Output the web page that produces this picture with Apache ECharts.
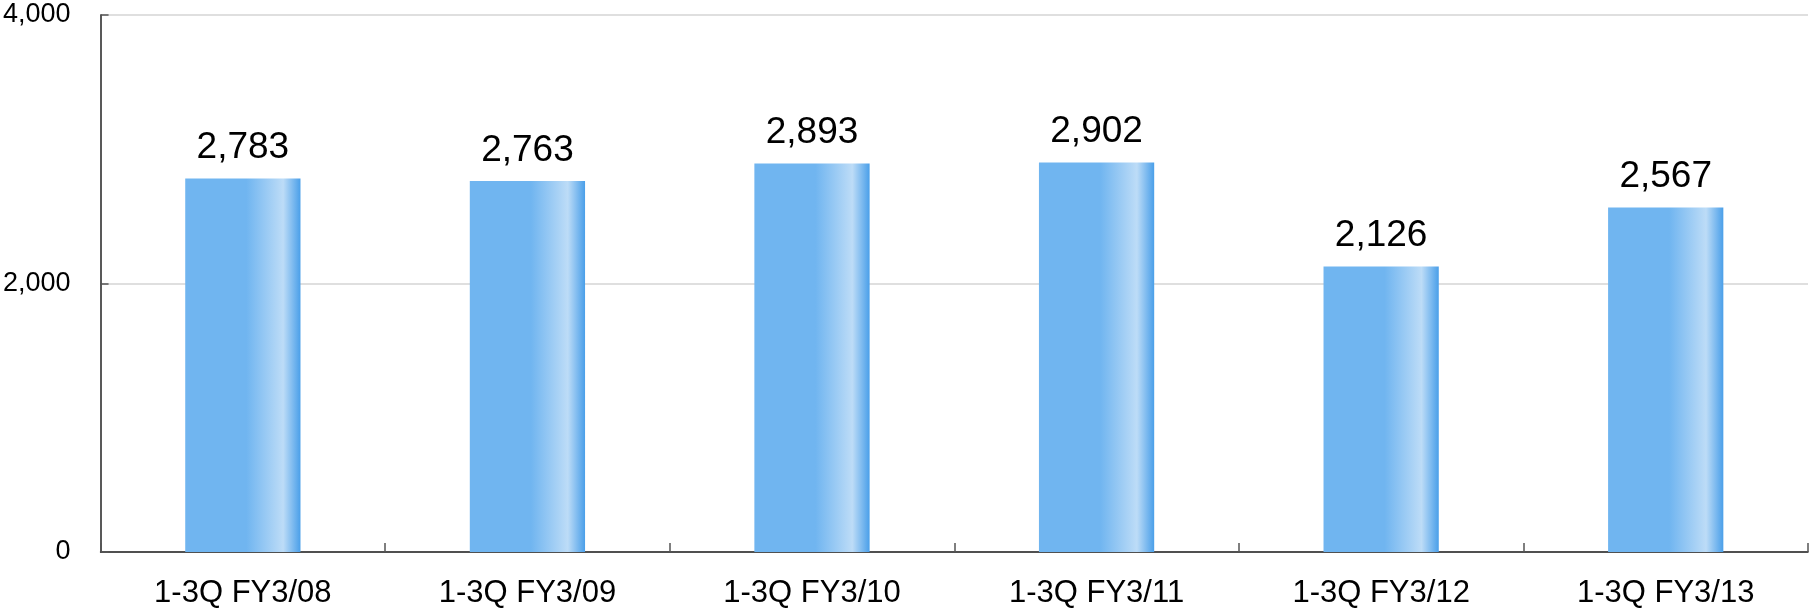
<!DOCTYPE html>
<html>
<head>
<meta charset="utf-8">
<script src="https://cdn.jsdelivr.net/npm/echarts@6/dist/echarts.min.js"></script>
<style>
html,body{margin:0;padding:0;background:#fff;}
#c{width:1810px;height:609px;}
</style>
</head>
<body>
<div id="c"></div>
<script>
var categories = ['1-3Q FY3/08','1-3Q FY3/09','1-3Q FY3/10','1-3Q FY3/11','1-3Q FY3/12','1-3Q FY3/13'];
var values = [2783, 2763, 2893, 2902, 2126, 2567];
var yTicks = [0, 2000, 4000];

function fmt(v){ return String(v).replace(/\B(?=(\d{3})+(?!\d))/g, ','); }

var chart = echarts.init(document.getElementById('c'), null, {renderer:'canvas'});
chart.setOption({
  animation:false,
  backgroundColor:'#ffffff',
  grid:{left:96, right:2, top:15, bottom:55, containLabel:false},
  xAxis:{
    type:'category',
    data:categories,
    axisLine:{show:true, lineStyle:{color:'#222222', width:1.5}},
    axisTick:{show:true, inside:true, length:9, alignWithLabel:false, lineStyle:{color:'#555555', width:1.5}},
    axisLabel:{color:'#000', fontFamily:'Liberation Sans, Arial, sans-serif', fontSize:31, margin:26}
  },
  yAxis:{
    type:'value',
    min:yTicks[0], max:yTicks[yTicks.length-1], interval:2000,
    axisLine:{show:true, lineStyle:{color:'#222222', width:1.5}},
    axisTick:{show:true, inside:true, length:8, lineStyle:{color:'#555555', width:1.5}},
    splitLine:{show:true, lineStyle:{color:'#d4d4d4', width:1.5}},
    axisLabel:{color:'#000', fontFamily:'Liberation Sans, Arial, sans-serif', fontSize:27, margin:30, formatter:function(v){return fmt(v);}}
  },
  series:[{
    type:'bar',
    data:values,
    barWidth:'40.5%',
    itemStyle:{
      color:new echarts.graphic.LinearGradient(0,0,1,0,[
        {offset:0, color:'#70b5f0'},
        {offset:0.53, color:'#70b5f0'},
        {offset:0.85, color:'#bddcf7'},
        {offset:1, color:'#4a9fe9'}
      ])
    },
    label:{show:true, position:'top', distance:12, color:'#000', fontFamily:'Liberation Sans, Arial, sans-serif', fontSize:37, formatter:function(p){return fmt(p.value);}}
  }]
});
</script>
</body>
</html>
